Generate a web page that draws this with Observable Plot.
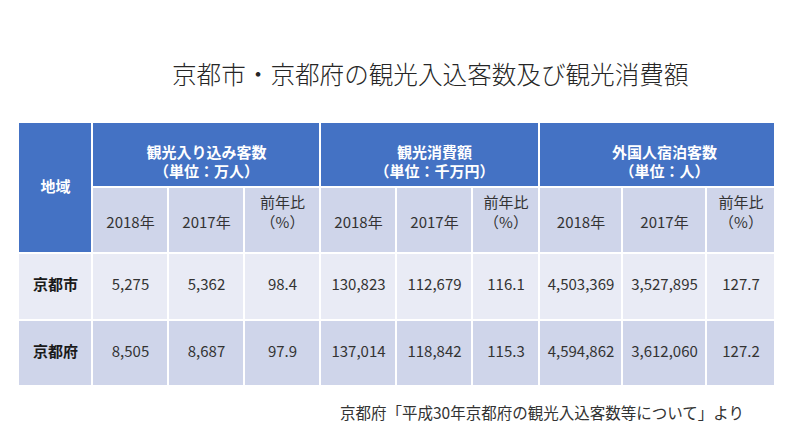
<!DOCTYPE html>
<html>
<head>
<meta charset="utf-8">
<script src="https://cdn.jsdelivr.net/npm/d3@7"></script>
<script src="https://cdn.jsdelivr.net/npm/@observablehq/plot@0.6"></script>
<style>
  html, body { margin: 0; padding: 0; background: #ffffff; }
  body { width: 800px; height: 446px; overflow: hidden; font-family: "Noto Sans CJK JP", "Noto Sans", sans-serif; }
  #title { margin: 0; padding: 58px 0 0 172px; height: 30px; line-height: 30px; font-size: 24.6px; font-weight: 300; color: #262626; white-space: nowrap; }
  #caption { margin: 0; padding: 10px 0 0 340px; height: 20px; line-height: 20px; font-size: 15.5px; color: #333333; white-space: nowrap; }
  svg text { font-family: "Noto Sans CJK JP", "Noto Sans", sans-serif; }
</style>
</head>
<body>
<div id="title">京都市・京都府の観光入込客数及び観光消費額</div>
<div id="chart"></div>
<div id="caption">京都府「平成30年京都府の観光入込客数等について」より</div>
<script>
// ---- data ----
const regionHeader = "地域";
const regions = ["京都市", "京都府"];
const groupTitles = ["観光入り込み客数\n（単位：万人）", "観光消費額\n（単位：千万円）", "外国人宿泊客数\n（単位：人）"];
const subHeaders = ["2018年", "2017年", "前年比\n（%）"];

const visitors2018 = [5275, 8505];
const visitors2017 = [5362, 8687];
const visitorsRatio = [98.4, 97.9];

const spending2018 = [130823, 137014];
const spending2017 = [112679, 118842];
const spendingRatio = [116.1, 115.3];

const foreign2018 = [4503369, 4594862];
const foreign2017 = [3527895, 3612060];
const foreignRatio = [127.7, 127.2];

// ---- build table cells ----
const blue = "#4472C4", mid = "#CFD5EA", light = "#E9EBF5";
const rowFills = [light, mid];
const fmtInt = d3.format(",");
const fmtRatio = d3.format(".1f");

const groupsData = [
  [visitors2018, visitors2017, visitorsRatio],
  [spending2018, spending2017, spendingRatio],
  [foreign2018, foreign2017, foreignRatio]
];

const headerCells = [];
const subCells = [];
const bodyCells = [];
const labelCells = [];

headerCells.push({x1: 0, x2: 1, y1: 0, y2: 2, fill: blue, text: regionHeader});
groupTitles.forEach((t, g) => {
  headerCells.push({x1: 1 + 3 * g, x2: 4 + 3 * g, y1: 0, y2: 1, fill: blue, text: t, group: true});
  subHeaders.forEach((s, k) => {
    subCells.push({x1: 1 + 3 * g + k, x2: 2 + 3 * g + k, y1: 1, y2: 2, fill: mid, text: s});
  });
});
regions.forEach((r, i) => {
  labelCells.push({x1: 0, x2: 1, y1: 2 + i, y2: 3 + i, fill: rowFills[i], text: r});
  groupsData.forEach((series, g) => {
    series.forEach((vals, k) => {
      const v = vals[i];
      bodyCells.push({
        x1: 1 + 3 * g + k, x2: 2 + 3 * g + k, y1: 2 + i, y2: 3 + i,
        fill: rowFills[i],
        text: k === 2 ? fmtRatio(v) : fmtInt(v)
      });
    });
  });
});
const allCells = [...headerCells, ...subCells, ...labelCells, ...bodyCells];
const mx = d => (d.x1 + d.x2) / 2;
const my = d => (d.y1 + d.y2) / 2;

// column / row edges of the table layout (piecewise scales)
const colEdges = [18, 92, 168, 244, 320, 396, 472, 539, 622, 706, 775];
const rowEdges = [34, 99, 165, 232, 298];

const chart = Plot.plot({
  width: 800,
  height: 304,
  x: {type: "linear", domain: d3.range(11), range: colEdges, axis: null},
  y: {type: "linear", domain: d3.range(5), range: rowEdges, axis: null},
  marks: [
    Plot.rect(allCells, {x1: "x1", x2: "x2", y1: "y1", y2: "y2", fill: d => d.fill, stroke: "#ffffff", strokeWidth: 2}),
    // header texts
    Plot.text(headerCells.filter(d => d.group), {x: mx, y: my, text: "text", fill: "#ffffff", fontSize: 15, fontWeight: "bold", lineHeight: 1.27, dy: 6}),
    Plot.text(headerCells.filter(d => !d.group), {x: mx, y: my, text: "text", fill: "#ffffff", fontSize: 15, fontWeight: "bold"}),
    // sub-headers
    Plot.text(subCells, {x: mx, y: my, text: "text", fill: "#333333", fontSize: 15, lineHeight: 1.27, lineAnchor: "bottom", dy: 7}),
    // region labels
    Plot.text(labelCells, {x: mx, y: my, text: "text", fill: "#1a1a1a", fontSize: 15, fontWeight: "bold", dy: -1.5}),
    // values
    Plot.text(bodyCells, {x: mx, y: my, text: "text", fill: "#333333", fontSize: 15, dy: -1.5})
  ]
});
document.getElementById("chart").appendChild(chart);
</script>
</body>
</html>
